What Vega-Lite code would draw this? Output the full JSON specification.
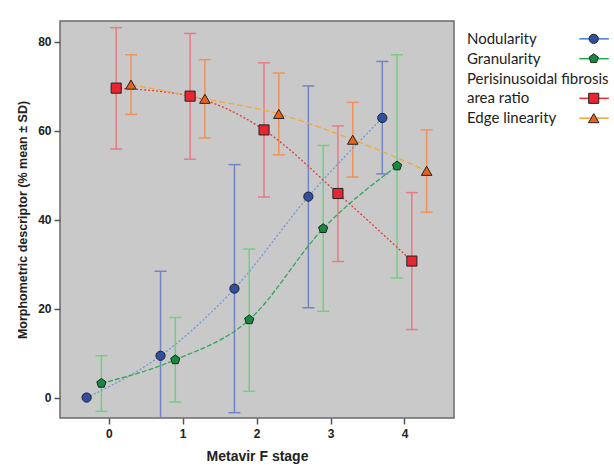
{
  "$schema": "https://vega.github.io/schema/vega-lite/v6.json",
  "background": "white",
  "padding": {"left": 15, "top": 20, "right": 5, "bottom": 5},
  "spacing": 12,
  "config": {
    "font": "Liberation Sans",
    "axis": {"labelFont": "Liberation Sans", "titleFont": "Liberation Sans", "labelFontWeight": "bold", "titleFontWeight": "bold", "labelColor": "#222", "titleColor": "#222", "labelFontSize": 12, "titleFontSize": 14, "domainColor": "#555", "tickColor": "#555", "domainWidth": 1.5, "tickWidth": 1.5, "tickSize": 6, "grid": false}
  },
  "datasets": {
    "stats": [
      {"s": "Nodularity", "stage": 0, "x": -0.3, "mean": 0.0, "lo": null, "hi": null},
      {"s": "Nodularity", "stage": 1, "x": 0.7, "mean": 9.4, "lo": -9.6, "hi": 28.4},
      {"s": "Nodularity", "stage": 2, "x": 1.7, "mean": 24.5, "lo": -3.4, "hi": 52.4},
      {"s": "Nodularity", "stage": 3, "x": 2.7, "mean": 45.2, "lo": 20.2, "hi": 70.1},
      {"s": "Nodularity", "stage": 4, "x": 3.7, "mean": 62.9, "lo": 50.3, "hi": 75.6},
      {"s": "Granularity", "stage": 0, "x": -0.1, "mean": 3.2, "lo": -3.1, "hi": 9.4},
      {"s": "Granularity", "stage": 1, "x": 0.9, "mean": 8.5, "lo": -1.0, "hi": 18.0},
      {"s": "Granularity", "stage": 2, "x": 1.9, "mean": 17.5, "lo": 1.4, "hi": 33.4},
      {"s": "Granularity", "stage": 3, "x": 2.9, "mean": 38.0, "lo": 19.4, "hi": 56.7},
      {"s": "Granularity", "stage": 4, "x": 3.9, "mean": 52.1, "lo": 26.9, "hi": 77.1},
      {"s": "Perisinusoidal fibrosis area ratio", "stage": 0, "x": 0.1, "mean": 69.6, "lo": 55.9, "hi": 83.2},
      {"s": "Perisinusoidal fibrosis area ratio", "stage": 1, "x": 1.1, "mean": 67.8, "lo": 53.6, "hi": 81.9},
      {"s": "Perisinusoidal fibrosis area ratio", "stage": 2, "x": 2.1, "mean": 60.2, "lo": 45.1, "hi": 75.3},
      {"s": "Perisinusoidal fibrosis area ratio", "stage": 3, "x": 3.1, "mean": 45.9, "lo": 30.6, "hi": 61.1},
      {"s": "Perisinusoidal fibrosis area ratio", "stage": 4, "x": 4.1, "mean": 30.7, "lo": 15.3, "hi": 46.1},
      {"s": "Edge linearity", "stage": 0, "x": 0.3, "mean": 70.4, "lo": 63.7, "hi": 77.1},
      {"s": "Edge linearity", "stage": 1, "x": 1.3, "mean": 67.2, "lo": 58.4, "hi": 76.0},
      {"s": "Edge linearity", "stage": 2, "x": 2.3, "mean": 63.8, "lo": 54.6, "hi": 73.0},
      {"s": "Edge linearity", "stage": 3, "x": 3.3, "mean": 58.0, "lo": 49.6, "hi": 66.4},
      {"s": "Edge linearity", "stage": 4, "x": 4.3, "mean": 51.0, "lo": 41.7, "hi": 60.2}
    ],
    "legend": [
      {"line": "Nodularity", "series": "Nodularity"},
      {"line": "Granularity", "series": "Granularity"},
      {"line": "Perisinusoidal fibrosis", "series": null},
      {"line": "area ratio", "series": "Perisinusoidal fibrosis area ratio"},
      {"line": "Edge linearity", "series": "Edge linearity"}
    ]
  },
  "hconcat": [
    {
      "width": 394,
      "height": 397,
      "view": {"fill": "#c9c9c9", "stroke": "#6a6a6a", "strokeWidth": 1.5},
      "data": {"name": "stats"},
      "encoding": {
        "x": {"field": "x", "type": "quantitative", "title": "Metavir F stage",
              "scale": {"domain": [-0.66, 4.67], "nice": false, "zero": false},
              "axis": {"values": [0, 1, 2, 3, 4], "format": "d", "labelPadding": 4, "titlePadding": 10, "domain": false}},
        "y": {"field": "mean", "type": "quantitative", "title": "Morphometric descriptor (% mean ± SD)",
              "scale": {"domain": [-4.6, 84.7], "nice": false, "zero": false},
              "axis": {"values": [0, 20, 40, 60, 80], "labelPadding": 3, "titlePadding": 8, "titleFontSize": 12.5, "domain": false}}
      },
      "layer": [
        {
          "transform": [{"filter": "isValid(datum.lo)"}],
          "mark": {"type": "rule", "clip": true, "strokeWidth": 1.5},
          "encoding": {
            "y": {"field": "lo", "type": "quantitative"},
            "y2": {"field": "hi"},
            "color": {"field": "s", "type": "nominal", "legend": null,
                      "scale": {"domain": ["Nodularity", "Granularity", "Perisinusoidal fibrosis area ratio", "Edge linearity"],
                                "range": ["#7283c6", "#72cf82", "#ea7a83", "#f0925a"]}}
          }
        },
        {
          "transform": [{"filter": "isValid(datum.lo)"}],
          "mark": {"type": "tick", "orient": "horizontal", "clip": true, "size": 12, "thickness": 1.5, "opacity": 1},
          "encoding": {
            "y": {"field": "lo", "type": "quantitative"},
            "color": {"field": "s", "type": "nominal", "legend": null,
                      "scale": {"domain": ["Nodularity", "Granularity", "Perisinusoidal fibrosis area ratio", "Edge linearity"],
                                "range": ["#7283c6", "#72cf82", "#ea7a83", "#f0925a"]}}
          }
        },
        {
          "transform": [{"filter": "isValid(datum.hi)"}],
          "mark": {"type": "tick", "orient": "horizontal", "clip": true, "size": 12, "thickness": 1.5, "opacity": 1},
          "encoding": {
            "y": {"field": "hi", "type": "quantitative"},
            "color": {"field": "s", "type": "nominal", "legend": null,
                      "scale": {"domain": ["Nodularity", "Granularity", "Perisinusoidal fibrosis area ratio", "Edge linearity"],
                                "range": ["#7283c6", "#72cf82", "#ea7a83", "#f0925a"]}}
          }
        },
        {
          "mark": {"type": "line", "interpolate": "monotone", "strokeWidth": 1.3},
          "encoding": {
            "color": {"field": "s", "type": "nominal", "legend": null,
                      "scale": {"domain": ["Nodularity", "Granularity", "Perisinusoidal fibrosis area ratio", "Edge linearity"],
                                "range": ["#6b9ad6", "#2fa85a", "#e83a3a", "#f2ab3c"]}},
            "strokeDash": {"field": "s", "type": "nominal", "legend": null,
                           "scale": {"domain": ["Nodularity", "Granularity", "Perisinusoidal fibrosis area ratio", "Edge linearity"],
                                     "range": [[2, 2], [5, 2], [2, 2], [6, 3]]}},
            "order": {"field": "x", "type": "quantitative"}
          }
        },
        {
          "mark": {"type": "point", "filled": true, "stroke": "#222", "strokeWidth": 1, "opacity": 1},
          "encoding": {
            "fill": {"field": "s", "type": "nominal", "legend": null,
                     "scale": {"domain": ["Nodularity", "Granularity", "Perisinusoidal fibrosis area ratio", "Edge linearity"],
                               "range": ["#2f4fa3", "#138a3e", "#e8262f", "#e8621c"]}},
            "shape": {"field": "s", "type": "nominal", "legend": null,
                      "scale": {"domain": ["Nodularity", "Granularity", "Perisinusoidal fibrosis area ratio", "Edge linearity"],
                                "range": ["circle", "M0,-1L0.951,-0.309L0.588,0.809L-0.588,0.809L-0.951,-0.309Z", "square", "triangle-up"]}},
            "size": {"field": "s", "type": "nominal", "legend": null,
                     "scale": {"domain": ["Nodularity", "Granularity", "Perisinusoidal fibrosis area ratio", "Edge linearity"],
                               "range": [85, 110, 115, 70]}}
          }
        }
      ],
      "resolve": {"scale": {"color": "independent"}}
    },
    {
      "width": 144,
      "height": 115,
      "view": {"stroke": null},
      "data": {"name": "legend"},
      "encoding": {
        "y": {"field": "line", "type": "ordinal", "sort": null, "axis": null, "scale": {"type": "point", "padding": 0.9}}
      },
      "layer": [
        {
          "mark": {"type": "text", "align": "left", "baseline": "middle", "font": "Lato", "fontSize": 15, "color": "#222"},
          "encoding": {
            "x": {"datum": 0, "type": "quantitative", "scale": {"domain": [0, 1], "nice": false}, "axis": null},
            "text": {"field": "line"}
          }
        },
        {
          "transform": [{"filter": "isValid(datum.series)"}],
          "mark": {"type": "rule", "strokeWidth": 1.5},
          "encoding": {
            "x": {"datum": 0.78, "type": "quantitative", "scale": {"domain": [0, 1], "nice": false}, "axis": null},
            "x2": {"datum": 0.985},
            "color": {"field": "series", "type": "nominal", "legend": null,
                      "scale": {"domain": ["Nodularity", "Granularity", "Perisinusoidal fibrosis area ratio", "Edge linearity"],
                                "range": ["#3d7fd0", "#22a64a", "#ee2a2a", "#f2a22a"]}}
          }
        },
        {
          "transform": [{"filter": "isValid(datum.series)"}],
          "mark": {"type": "point", "filled": true, "stroke": "#222", "strokeWidth": 1, "opacity": 1},
          "encoding": {
            "x": {"datum": 0.88, "type": "quantitative", "scale": {"domain": [0, 1], "nice": false}, "axis": null},
            "fill": {"field": "series", "type": "nominal", "legend": null,
                     "scale": {"domain": ["Nodularity", "Granularity", "Perisinusoidal fibrosis area ratio", "Edge linearity"],
                               "range": ["#1f5fb8", "#139a40", "#e8262f", "#e8901c"]}},
            "shape": {"field": "series", "type": "nominal", "legend": null,
                      "scale": {"domain": ["Nodularity", "Granularity", "Perisinusoidal fibrosis area ratio", "Edge linearity"],
                                "range": ["circle", "M0,-1L0.951,-0.309L0.588,0.809L-0.588,0.809L-0.951,-0.309Z", "square", "triangle-up"]}},
            "size": {"field": "series", "type": "nominal", "legend": null,
                     "scale": {"domain": ["Nodularity", "Granularity", "Perisinusoidal fibrosis area ratio", "Edge linearity"],
                               "range": [85, 110, 100, 70]}}
          }
        }
      ],
      "resolve": {"scale": {"color": "independent"}}
    }
  ]
}
